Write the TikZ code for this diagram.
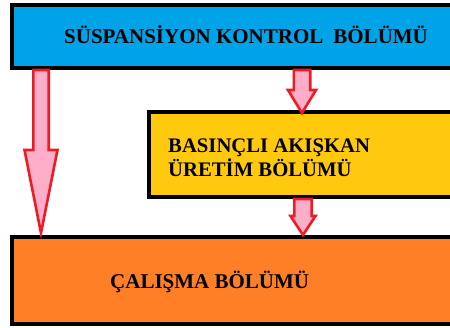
\documentclass[tikz,border=0pt]{standalone}
\usepackage{fontspec}
\setmainfont{Liberation Serif}
\usetikzlibrary{calc}
\definecolor{ctrlblue}{HTML}{00A2E8}
\definecolor{pressyellow}{HTML}{FFC90E}
\definecolor{workorange}{HTML}{FF7F27}
\definecolor{arrowpink}{HTML}{FFAEC9}
\definecolor{arrowred}{HTML}{ED1C24}

\begin{document}
\begin{tikzpicture}[
  x=1pt, y=1pt,
  box/.style={draw=black, line width=4pt, minimum width=470pt, anchor=north west, inner sep=0pt},
  lbl/.style={font=\fontsize{21}{24}\selectfont\bfseries, text=black, inner sep=0pt, anchor=base west, align=left},
  blockarr/.style={draw=arrowred, fill=arrowpink, line width=2.6pt, line join=miter}
]
% top, tip, shaft half width, head half width, head length
\def\blockdown#1#2#3#4#5{%
  \draw[blockarr] ($(#1)+(-#3,0)$) -- ($(#2)+(-#3,#5)$) -- ($(#2)+(-#4,#5)$) -- (#2)
    -- ($(#2)+(#4,#5)$) -- ($(#2)+(#3,#5)$) -- ($(#1)+(#3,0)$) -- cycle;}

\path[use as bounding box, clip] (0,0) rectangle (450,-327);

% boxes
\node[box, fill=ctrlblue, minimum height=63pt] (ctrl) at (10,-3) {};
\node[box, fill=pressyellow, minimum height=85pt] (press) at (147,-110) {};
\node[box, fill=workorange, minimum height=87pt] (work) at (10,-235) {};

\node[lbl] (ctrltxt) at ($(ctrl.north west)+(54,-40)$) {SÜSPANSİYON KONTROL\hspace{10pt}BÖLÜMÜ};
\node[lbl, font=\fontsize{20.7}{24}\selectfont\bfseries] (presstxt) at ($(press.north west)+(21,-66)$) {BASINÇLI AKIŞKAN\\ÜRETİM BÖLÜMÜ};
\node[lbl] (worktxt) at ($(work.north west)+(100,-53)$) {ÇALIŞMA BÖLÜMÜ};

% arrows
\coordinate (a1) at ($(ctrl.south west)+(31,0)$);
\coordinate (a2) at ($(ctrl.south west)+(292,0)$);
\coordinate (a3) at ($(press.south west)+(156,0)$);
\blockdown{a1}{$(a1|-work.north)+(0,2)$}{7.7}{16.5}{83}
\blockdown{a2}{$(a2|-press.north)+(0,-3)$}{8.2}{14}{23}
\blockdown{a3}{$(a3|-work.north)+(0,0)$}{8.7}{12.5}{19}

\end{tikzpicture}
\end{document}
